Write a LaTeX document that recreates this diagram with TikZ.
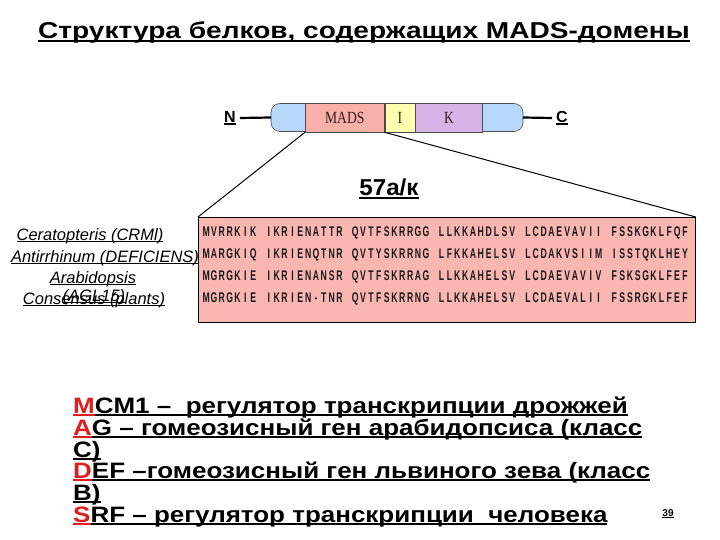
\documentclass[tikz,border=0pt]{standalone}
\usepackage{fontspec}
\setmainfont{Liberation Sans}
\newfontfamily\segfont{Liberation Serif}
\newsavebox\ulbox
\newcommand\myul[1]{\sbox\ulbox{#1}\rlap{\rule[-0.13em]{\wd\ulbox}{0.075em}}\usebox\ulbox}
\newcommand\seqrow[1]{\seqloop#1\relax}
\def\seqloop#1{\ifx#1\relax\else\makebox[7.85pt]{\ifx#1.\else\scalebox{0.62}[1]{#1}\fi}\expandafter\seqloop\fi}
\definecolor{pblue}{RGB}{182,216,250}
\definecolor{ppink}{RGB}{248,176,168}
\definecolor{pyellow}{RGB}{255,255,176}
\definecolor{ppurple}{RGB}{214,180,232}
\definecolor{seqbg}{RGB}{250,182,176}
\definecolor{lred}{RGB}{222,30,30}
\definecolor{segtext}{RGB}{50,30,30}
\newcommand\redul[1]{\textcolor{lred}{\myul{#1}}}
\tikzset{
  seg/.style={draw=black!70, line width=0.6pt, minimum height=29pt, inner sep=0pt, anchor=west, text=segtext, font=\segfont\fontsize{17}{17}\selectfont},
  seqtxt/.style={anchor=west, inner sep=0pt, text=black!90, font=\bfseries\fontsize{14}{14}\selectfont},
  species/.style={inner sep=0pt, font=\itshape\fontsize{16.5}{17}\selectfont},
  bottomline/.style={anchor=base west, inner sep=0pt, font=\bfseries\fontsize{22.3}{23}\selectfont},
  ends/.style={inner sep=0pt, font=\bfseries\fontsize{16}{16}\selectfont}
}
\newcommand\wide[1]{\scalebox{1.165}[1]{#1}}
\begin{document}
\begin{tikzpicture}[x=1pt,y=-1pt]
\useasboundingbox (0,0) rectangle (720,540);
% title
\node[inner sep=0pt, anchor=base, font=\bfseries\fontsize{23}{25}\selectfont] (title) at (364,39) {\scalebox{1.22}[1]{\myul{Структура белков, содержащих MADS-домены}}};
% protein bar
\draw[fill=pblue, draw=black!70, line width=0.6pt, rounded corners=9pt] (271,103.5) rectangle (523,131.5);
\coordinate (barL) at (271,117.5);
\coordinate (barR) at (523,117.5);
\node[seg, fill=ppink, minimum width=79pt] (mads) at (305,117.5) {\scalebox{0.8}[1]{MADS}};
\node[seg, fill=pyellow, minimum width=30pt] (ibox) at (mads.east) {\scalebox{0.8}[1]{I}};
\node[seg, fill=ppurple, minimum width=67pt] (kbox) at (ibox.east) {\scalebox{0.8}[1]{K}};
\node[ends] (N) at (230,118) {\myul{N}};
\node[ends] (C) at (562,118) {\myul{C}};
\draw[line width=2.2pt] ([xshift=4pt]N.east) -- (barL);
\draw[line width=2.2pt] (barR) -- ([xshift=-4pt]C.west);
% sequence box
\node[draw=black, line width=0.8pt, fill=seqbg, minimum width=497pt, minimum height=105pt, anchor=north west, inner sep=0pt] (seq) at (198,217) {};
\draw[line width=1pt] (mads.south west) -- (seq.north west);
\draw[line width=1pt] (mads.south east) -- (seq.north east);
\node[inner sep=0pt, anchor=base, font=\bfseries\fontsize{23}{23}\selectfont] (aa) at (389,196) {\scalebox{1.05}[1]{\myul{57а/к}}};
% sequence rows
\foreach \row/\y/\s in {
 1/233/MVRRKIK.IKRIENATTR.QVTFSKRRGG.LLKKAHDLSV.LCDAEVAVII.FSSKGKLFQF,
 2/255/MARGKIQ.IKRIENQTNR.QVTYSKRRNG.LFKKAHELSV.LCDAKVSIIM.ISSTQKLHEY,
 3/277/MGRGKIE.IKRIENANSR.QVTFSKRRAG.LLKKAHELSV.LCDAEVAVIV.FSKSGKLFEF,
 4/299/MGRGKIE.IKRIEN-TNR.QVTFSKRRNG.LLKKAHELSV.LCDAEVALII.FSSRGKLFEF}{
  \node[seqtxt] (s\row) at (202,\y) {\expandafter\seqrow\expandafter{\s}};
}
% species labels
\node[species] (cer) at (90,236) {\myul{Ceratopteris (CRMl)}};
\node[species] (ant) at (105,258) {\myul{Antirrhinum (DEFICIENS)}};
\node[species] (ara) at (93,279) {\myul{Arabidopsis}};
\node[species] (agl) at (94,297) {\myul{(AGL15)}};
\node[species] (con) at (94,300) {\myul{Consensus (plants)}};
% bottom text
\node[bottomline] (l1) at (73,413) {\wide{\redul{M}\myul{CM1 –\ \ регулятор транскрипции дрожжей}}};
\node[bottomline] (l2) at (73,435) {\wide{\redul{A}\myul{G – гомеозисный ген арабидопсиса (класс}}};
\node[bottomline] (l3) at (73,457) {\wide{\myul{C)}}};
\node[bottomline] (l4) at (73,478) {\wide{\redul{D}\myul{EF –гомеозисный ген львиного зева (класс}}};
\node[bottomline] (l5) at (73,500) {\wide{\myul{B)}}};
\node[bottomline] (l6) at (73,522) {\wide{\redul{S}\myul{RF – регулятор транскрипции\ \ человека}}};
\node[inner sep=0pt, font=\bfseries\fontsize{10}{10}\selectfont] (pg) at (668,514) {\myul{39}};
\end{tikzpicture}
\end{document}
